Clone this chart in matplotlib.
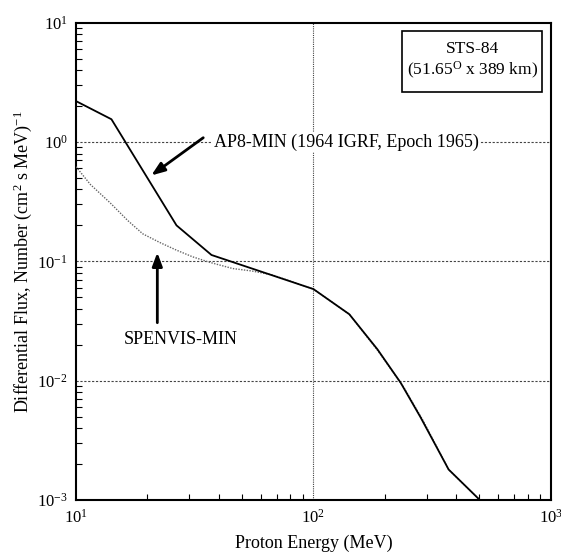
import matplotlib
matplotlib.use("Agg")
import matplotlib.pyplot as plt
from matplotlib.patches import Rectangle
import numpy as np

plt.rcParams['font.family'] = ['Liberation Serif', 'DejaVu Serif']
plt.rcParams['mathtext.fontset'] = 'custom'
plt.rcParams['mathtext.rm'] = 'Liberation Serif'
plt.rcParams['mathtext.it'] = 'Liberation Serif:italic'

# AP8-MIN (solid)
ap8_energy = [10, 14.1, 26.5, 37.2, 100, 141.6, 186, 233, 283, 371, 502]
ap8_flux = [2.2, 1.55, 0.20, 0.113, 0.0585, 0.036, 0.0183, 0.0096, 0.0049, 0.0018, 0.001]

# SPENVIS-MIN (dotted)
sp_energy = [10, 11.5, 13.9, 16.5, 19.1, 22.5, 26.5, 31, 36.6, 45.7, 55, 67, 100, 141.6, 186, 240, 290, 371, 502]
sp_flux = [0.62, 0.44, 0.31, 0.22, 0.170, 0.144, 0.124, 0.109, 0.098, 0.087, 0.083, 0.077, 0.0585, 0.036, 0.0180, 0.0088, 0.0046, 0.0018, 0.001]

x_ticks = [10, 100, 1000]
x_ticklabels = [r'$10^{1}$', r'$10^{2}$', r'$10^{3}$']
y_ticks = [1e-3, 1e-2, 1e-1, 1e0, 1e1]
y_ticklabels = [r'$10^{-3}$', r'$10^{-2}$', r'$10^{-1}$', r'$10^{0}$', r'$10^{1}$']

fig = plt.figure(figsize=(5.61, 5.52), dpi=100)
ax = fig.add_axes([0.1355, 0.0942, 0.8465, 0.8648])
ax.set_xscale('log')
ax.set_yscale('log')
ax.set_xlim(10, 1000)
ax.set_ylim(1e-3, 10)

ax.plot(sp_energy, sp_flux, color='#666666', lw=1.0, ls=(0, (1, 1)), zorder=3)
ax.plot(ap8_energy, ap8_flux, color='black', lw=1.3, zorder=4)

ax.set_xticks(x_ticks)
ax.set_xticklabels(x_ticklabels, fontsize=12)
ax.set_yticks(y_ticks)
ax.set_yticklabels(y_ticklabels, fontsize=12)
ax.tick_params(axis='both', which='major', direction='in', length=0, pad=6)
ax.tick_params(axis='both', which='minor', direction='in', length=4, width=0.8)
ax.yaxis.set_minor_locator(matplotlib.ticker.LogLocator(base=10, subs=np.arange(2, 10)))
ax.xaxis.set_minor_locator(matplotlib.ticker.LogLocator(base=10, subs=np.arange(2, 10)))
ax.yaxis.set_minor_formatter(matplotlib.ticker.NullFormatter())
ax.xaxis.set_minor_formatter(matplotlib.ticker.NullFormatter())

for v in [1e0, 1e-1, 1e-2]:
    ax.axhline(v, color='#444444', lw=0.8, ls=(0, (2, 1.5)), zorder=1)
ax.axvline(100, color='#444444', lw=0.8, ls=(0, (1, 1)), zorder=1)

for s in ax.spines.values():
    s.set_linewidth(1.5)

ax.set_xlabel('Proton Energy (MeV)', fontsize=13, labelpad=6)
ax.set_ylabel(r'Differential Flux, Number (cm$^{2}$ s MeV)$^{-1}$', fontsize=13, labelpad=2)

# AP8 annotation
ax.text(38.0, 1.0, 'AP8-MIN (1964 IGRF, Epoch 1965)', fontsize=13, va='center', ha='left',
        bbox=dict(facecolor='white', edgecolor='none', pad=1), zorder=5)
ax.annotate('', xy=(20.3, 0.508), xytext=(35.1, 1.12),
            arrowprops=dict(arrowstyle='-|>,head_length=0.8,head_width=0.3', color='black', lw=2),
            zorder=6)

# SPENVIS annotation
ax.text(27.6, 0.022, 'SPENVIS-MIN', fontsize=13, va='center', ha='center', zorder=5)
ax.annotate('', xy=(22.0, 0.125), xytext=(22.0, 0.029),
            arrowprops=dict(arrowstyle='-|>,head_length=0.8,head_width=0.3', color='black', lw=2),
            zorder=6)

# STS-84 box
ax.add_patch(Rectangle((0.686, 0.855), 0.295, 0.127, transform=ax.transAxes,
                       facecolor='white', edgecolor='black', lw=1.2, zorder=6))
ax.text(0.835, 0.945, 'STS-84', transform=ax.transAxes, fontsize=12.5,
        ha='center', va='center', zorder=7)
ax.text(0.835, 0.899, r'(51.65$^{\mathrm{O}}$ x 389 km)', transform=ax.transAxes, fontsize=12.5,
        ha='center', va='center', zorder=7)

fig.savefig('out.png', dpi=100)
